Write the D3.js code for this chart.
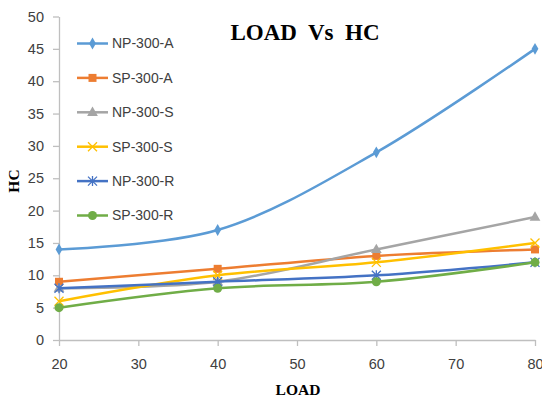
<!DOCTYPE html>
<html>
<head>
<meta charset="utf-8">
<script src="https://cdn.jsdelivr.net/npm/d3@7"></script>
<style>
  body { margin: 0; background: #fff; }
  text { font-family: "Liberation Sans", Arial, sans-serif; }
  .serif { font-family: "Liberation Serif", "Times New Roman", serif; font-weight: bold; }
</style>
</head>
<body>
<svg width="542" height="398"></svg>
<script>
// **** data ****
var loads = [20, 40, 60, 80];
var seriesNames = ["NP-300-A", "SP-300-A", "NP-300-S", "SP-300-S", "NP-300-R", "SP-300-R"];
var np300A = [14, 17, 29, 45];
var sp300A = [9, 11, 13, 14];
var np300S = [8, 9, 14, 19];
var sp300S = [6, 10, 12, 15];
var np300R = [8, 9, 10, 12];
var sp300R = [5, 8, 9, 12];
var xTicks = [20, 30, 40, 50, 60, 70, 80];
var yTicks = [0, 5, 10, 15, 20, 25, 30, 35, 40, 45, 50];

var seriesValues = [np300A, sp300A, np300S, sp300S, np300R, sp300R];
var colors = ["#5B9BD5", "#ED7D31", "#A5A5A5", "#FFC000", "#4472C4", "#70AD47"];
var markers = ["diamond", "square", "triangle", "x", "star", "circle"];

// **** scales and axes ****
var xScale = d3.scaleLinear().domain([20, 80]).range([59, 535]);
var yScale = d3.scaleLinear().domain([0, 50]).range([340, 16.5]);

var svg = d3.select('svg');
svg.append('rect').attr('width', 542).attr('height', 398).attr('fill', '#fff');

var xAxis = svg.append('g').attr('class', 'x axis')
    .attr('transform', 'translate(0,340)')
    .call(d3.axisBottom(xScale).tickValues(xTicks).tickSize(6).tickPadding(13).tickSizeOuter(0));

var yAxis = svg.append('g').attr('class', 'y axis')
    .attr('transform', 'translate(59,0)')
    .call(d3.axisLeft(yScale).tickValues(yTicks).tickSize(6).tickPadding(9).tickSizeOuter(0));

svg.selectAll('.axis path, .axis line').attr('stroke', '#bfbfbf').attr('stroke-width', 1.3);
svg.selectAll('.axis text').attr('font-size', '14.5px').attr('fill', '#404040')
    .attr('font-family', '"Liberation Sans", Arial, sans-serif');

// titles
svg.append('text').attr('class', 'serif')
    .attr('x', 305).attr('y', 39.5)
    .attr('text-anchor', 'middle')
    .attr('font-size', '23px')
    .style('white-space', 'pre')
    .text('LOAD  Vs  HC');

svg.append('text').attr('class', 'serif')
    .attr('x', 298).attr('y', 395)
    .attr('text-anchor', 'middle')
    .attr('font-size', '15.5px')
    .text('LOAD');

svg.append('text').attr('class', 'serif')
    .attr('transform', 'translate(19,181) rotate(-90)')
    .attr('text-anchor', 'middle')
    .attr('font-size', '15.5px')
    .text('HC');

// **** markers ****
function drawMarker(g, type, x, y, color) {
    if (type === 'diamond') {
        g.append('path').attr('d', d3.symbol(d3.symbolDiamond, 40)())
            .attr('transform', 'translate(' + x + ',' + y + ')').attr('fill', color);
    } else if (type === 'square') {
        g.append('path').attr('d', d3.symbol(d3.symbolSquare, 64)())
            .attr('transform', 'translate(' + x + ',' + y + ')').attr('fill', color);
    } else if (type === 'triangle') {
        g.append('path').attr('d', d3.symbol(d3.symbolTriangle, 50)())
            .attr('transform', 'translate(' + x + ',' + (y + 0.5) + ')').attr('fill', color);
    } else if (type === 'circle') {
        g.append('circle').attr('cx', x).attr('cy', y).attr('r', 4.5).attr('fill', color);
    } else if (type === 'x') {
        g.append('path').attr('d', 'M-4.5,-4.5L4.5,4.5M-4.5,4.5L4.5,-4.5')
            .attr('transform', 'translate(' + x + ',' + y + ')')
            .attr('stroke', color).attr('stroke-width', 1.3).attr('fill', 'none');
    } else if (type === 'star') {
        g.append('path').attr('d', 'M-4.5,-4.5L4.5,4.5M-4.5,4.5L4.5,-4.5M0,-5L0,5')
            .attr('transform', 'translate(' + x + ',' + y + ')')
            .attr('stroke', color).attr('stroke-width', 1.3).attr('fill', 'none');
    }
}

// **** series ****
var line = d3.line()
    .x(function (d, i) { return xScale(loads[i]); })
    .y(function (d) { return yScale(d); })
    .curve(d3.curveCatmullRom.alpha(0.5));

seriesValues.forEach(function (values, s) {
    var g = svg.append('g').attr('class', 'series');
    g.append('path').attr('d', line(values))
        .attr('fill', 'none').attr('stroke', colors[s]).attr('stroke-width', 2.5);
    values.forEach(function (v, i) {
        drawMarker(g, markers[s], xScale(loads[i]), yScale(v), colors[s]);
    });
});

// **** legend ****
seriesNames.forEach(function (name, s) {
    var y = 43.5 + s * 34.4;
    var g = svg.append('g').attr('class', 'legend');
    g.append('line').attr('x1', 77).attr('x2', 108).attr('y1', y).attr('y2', y)
        .attr('stroke', colors[s]).attr('stroke-width', 2.5);
    drawMarker(g, markers[s], 92.5, y, colors[s]);
    g.append('text').attr('x', 112).attr('y', y).attr('dy', '0.35em')
        .attr('font-size', '14px').attr('fill', '#404040').text(name);
});
</script>
</body>
</html>
